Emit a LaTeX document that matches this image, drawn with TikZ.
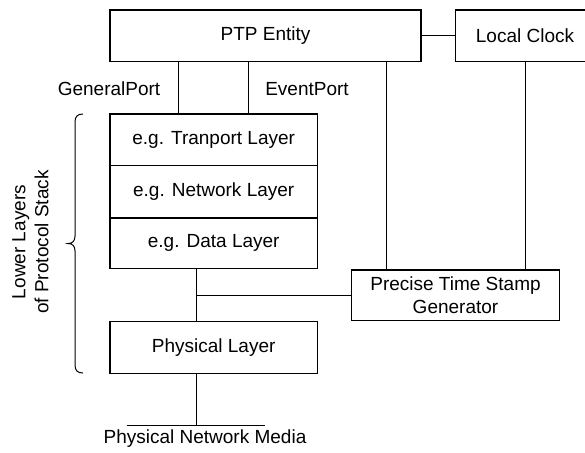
\documentclass[tikz,border=0pt]{standalone}
\usepackage{fontspec}
\setmainfont{Liberation Sans}
\begin{document}
\begin{tikzpicture}[x=1pt,y=-1pt,
  every node/.style={font=\fontsize{19}{23}\selectfont, inner sep=0pt},
  blk/.style={draw, line width=1.2pt, anchor=center},
  wire/.style={line width=1pt},
  lbl/.style={anchor=base}]
\useasboundingbox (0,0) rectangle (585,452);
\clip (0,0) rectangle (585,452);

% top row
\node[blk, minimum width=311pt, minimum height=51.7pt] (ptp) at (265.5,35.8) {PTP Entity};
\node[blk, minimum width=138.6pt, minimum height=51.7pt] (clk) at (525,35.8) {Local Clock};

% protocol stack
\node[blk, minimum width=207.3pt, minimum height=51.7pt] (trans) at (213.7,139.9) {e.g. Tranport Layer};
\node[blk, minimum width=207.3pt, minimum height=52.3pt] (net) at (213.7,191.8) {e.g. Network Layer};
\node[blk, minimum width=207.3pt, minimum height=50.3pt] (data) at (213.7,243.2) {e.g. Data Layer};
\node[blk, minimum width=207.3pt, minimum height=51.6pt] (phys) at (213.7,347.5) {Physical Layer};

% time stamp generator
\node[blk, minimum width=207.6pt, minimum height=50.7pt, align=center] (ptsg) at (455.5,295.3) {Precise Time Stamp\\Generator};

% vertical tracks
\coordinate (gpx) at (178.7,0);
\coordinate (epx) at (248,0);
\coordinate (ptx) at (386.7,0);
\coordinate (ckx) at (525.3,0);
\coordinate (phx) at (196.7,0);
\coordinate (tap) at (196.7,295.7);
\coordinate (media) at (196.7,425);
\coordinate (mediaL) at (126.7,425);
\coordinate (mediaR) at (265,425);

% connectors
\draw[wire] (ptp.east) -- (clk.west);
\draw[wire] (ptp.south -| gpx) -- (trans.north -| gpx);
\draw[wire] (ptp.south -| epx) -- (trans.north -| epx);
\draw[wire] (ptp.south -| ptx) -- (ptsg.north -| ptx);
\draw[wire] (clk.south -| ckx) -- (ptsg.north -| ckx);
\draw[wire] (data.south -| phx) -- (phys.north -| phx);
\draw[wire] (tap) -- (ptsg.west |- tap);
\draw[wire] (phys.south -| phx) -- (media);
\draw[wire] (mediaL) -- (mediaR);

% labels
\node[lbl] (gplbl) at (109,95) {GeneralPort};
\node[lbl] (eplbl) at (307,95) {EventPort};
\node[lbl] (medlbl) at (205,443.3) {Physical Network Media};

% brace around the lower layers
\draw[wire] (83,114) .. controls (77.5,114) and (75,116.5) .. (75,122)
  -- (75,236) .. controls (75,241) and (72.5,243.5) .. (68,243.5)
  .. controls (72.5,243.5) and (75,246) .. (75,251)
  -- (75,365) .. controls (75,370.5) and (77.5,373) .. (83,373);
\node[rotate=90, align=center] (stacklbl) at (30.5,242) {Lower Layers\\of Protocol Stack};
\end{tikzpicture}
\end{document}
